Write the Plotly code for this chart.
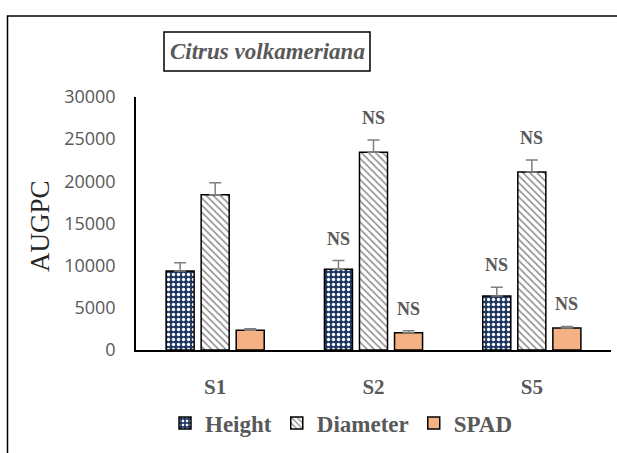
import plotly.graph_objects as go

categories = ["S1", "S2", "S5"]
series_names = ["Height", "Diameter", "SPAD"]
height_vals = [9370, 9570, 6400]
height_err = [980, 1030, 1040]
diameter_vals = [18420, 23450, 21110]
diameter_err = [1420, 1450, 1430]
spad_vals = [2330, 2050, 2610]
spad_err = [200, 240, 190]
sig_labels = ["", "NS", "NS"]
y_ticks = [0, 5000, 10000, 15000, 20000, 25000, 30000]

W, H = 617, 453
GRAY = "#595959"
SERIF = "Liberation Serif"

def px(x):
    return x / W

def py(y):
    return 1 - y / H

styles = [
    dict(marker_color="#1F3864",
         pattern=dict(shape=".", bgcolor="#1F3864", fgcolor="white", size=5, solidity=0.35, fillmode="replace")),
    dict(marker_color="white",
         pattern=dict(shape="\\", bgcolor="white", fgcolor="#8c8c8c", size=5, solidity=0.3, fillmode="replace")),
    dict(marker_color="#F4B183", pattern=None),
]

vals = [height_vals, diameter_vals, spad_vals]
errs = [height_err, diameter_err, spad_err]

fig = go.Figure()
for name, v, e, st in zip(series_names, vals, errs, styles):
    marker = dict(color=st["marker_color"], line=dict(color="black", width=1.5))
    if st["pattern"] is not None:
        marker["pattern"] = st["pattern"]
    fig.add_trace(go.Bar(
        x=categories, y=v, name="<b>%s</b>" % name, marker=marker,
        error_y=dict(type="data", array=e, arrayminus=[0] * len(e), symmetric=False,
                     color="#7f7f7f", thickness=1.5, width=6),
    ))

bargap = 0.336
slot = (1 - bargap) / len(series_names)
annotations = []
for ci, lab in enumerate(sig_labels):
    if not lab:
        continue
    for si in range(len(series_names)):
        annotations.append(dict(
            x=ci + (si - 1) * slot, y=vals[si][ci] + errs[si][ci], xref="x", yref="y",
            text="<b>%s</b>" % lab, showarrow=False, yshift=22, yanchor="middle",
            font=dict(family=SERIF, size=18, color=GRAY)))

annotations.append(dict(
    x=px(40), y=py(226), xref="paper", yref="paper", text="AUGPC", textangle=-90,
    showarrow=False, font=dict(family=SERIF, size=27, color="#262626"),
    xanchor="center", yanchor="middle"))
annotations.append(dict(
    x=px(267), y=py(51.5), xref="paper", yref="paper",
    text="<b><i>Citrus volkameriana</i></b>", showarrow=False,
    font=dict(family=SERIF, size=23, color=GRAY), xanchor="center", yanchor="middle"))

shapes = [
    dict(type="rect", xref="paper", yref="paper", x0=px(7.5), y0=py(16), x1=px(660), y1=py(500),
         line=dict(color="black", width=1.5), fillcolor="rgba(0,0,0,0)"),
    dict(type="rect", xref="paper", yref="paper", x0=px(164), y0=py(32), x1=px(370), y1=py(71),
         line=dict(color="black", width=1.5), fillcolor="rgba(0,0,0,0)"),
]

fig.update_layout(
    width=W, height=H, autosize=False,
    margin=dict(l=0, r=0, t=0, b=0, pad=0, autoexpand=False),
    paper_bgcolor="white", plot_bgcolor="white",
    barmode="group", bargap=bargap, bargroupgap=0.2,
    showlegend=True,
    legend=dict(orientation="h", x=px(165), y=py(423), xanchor="left", yanchor="middle",
                font=dict(family=SERIF, size=23, color=GRAY), traceorder="normal",
                itemclick=False, itemwidth=30),
    xaxis=dict(domain=[px(136), px(611)], showline=True, linecolor="black", linewidth=1.5,
               ticks="", showgrid=False, ticklabelstandoff=17, automargin=False,
               tickfont=dict(family=SERIF, size=21, color=GRAY),
               tickvals=categories, ticktext=["<b>%s</b>" % c for c in categories]),
    yaxis=dict(domain=[py(350), py(97)], range=[0, 30000], tickvals=y_ticks,
               ticktext=[str(t) for t in y_ticks], automargin=False,
               showline=True, linecolor="black", linewidth=1.5, ticks="", showgrid=False,
               zeroline=False, ticklabelstandoff=15,
               tickfont=dict(family="Open Sans", size=18, color=GRAY)),
    annotations=annotations, shapes=shapes,
)

fig.write_html("out.html", config={"displayModeBar": False},
               post_script="document.body.style.margin='0';document.body.style.overflow='hidden';")
